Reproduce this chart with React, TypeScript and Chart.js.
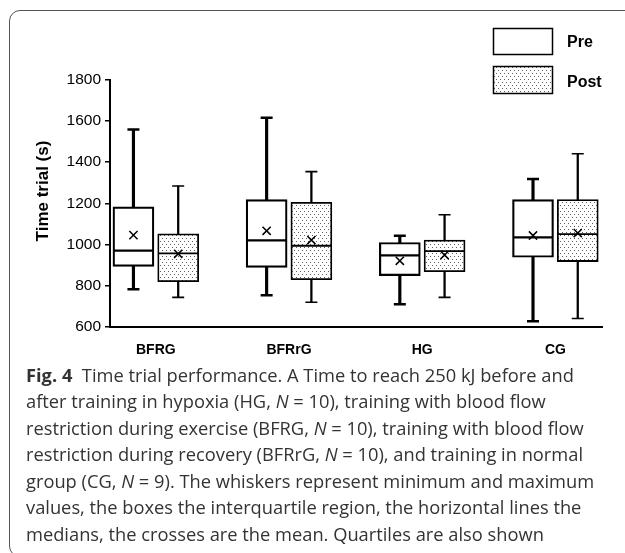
import React, { useEffect, useRef } from "react";
import { Chart, registerables } from "chart.js";

Chart.register(...registerables);

// ---------- data ----------
const categories = ["BFRG", "BFRrG", "HG", "CG"];
const seriesNames = ["Pre", "Post"];
const yTicks = [600, 800, 1000, 1200, 1400, 1600, 1800];
const yTitle = "Time trial (s)";

const preMin = [781, 752, 708, 626];
const preQ1 = [893, 888, 848, 937];
const preMedian = [969, 1019, 946, 1034];
const preQ3 = [1182, 1218, 1009, 1218];
const preMax = [1559, 1616, 1042, 1318];
const preMean = [1045, 1066, 920, 1043];

const postMin = [742, 718, 742, 639];
const postQ1 = [818, 828, 867, 916];
const postMedian = [956, 993, 967, 1050];
const postQ3 = [1051, 1205, 1021, 1218];
const postMax = [1284, 1354, 1144, 1441];
const postMean = [954, 1021, 948, 1055];

// ---------- styling ----------
const FONT = '"Liberation Sans", Arial, Helvetica, sans-serif';
const OFF = 0.168;

function makePattern(): CanvasPattern | string {
  const c = document.createElement("canvas");
  c.width = 4;
  c.height = 6;
  const p = c.getContext("2d");
  if (!p) return "#ddd";
  p.fillStyle = "#ffffff";
  p.fillRect(0, 0, 4, 6);
  p.fillStyle = "#5e5e5e";
  p.fillRect(0, 1, 1, 1);
  p.fillRect(2, 4, 1, 1);
  const pat = p.createPattern(c, "repeat");
  return pat || "#ddd";
}

function seriesDatasets(
  name: string,
  offset: number,
  mins: number[],
  q1: number[],
  med: number[],
  q3: number[],
  maxs: number[],
  means: number[],
  fill: any,
  lw: { whisker: number; box: number; median: number }
) {
  const xs = categories.map((_, i) => i + offset);
  return [
    {
      type: "bar",
      label: name + " whisker",
      data: xs.map((x, i) => ({ x, y: [mins[i], maxs[i]] })),
      backgroundColor: "#000",
      borderWidth: 0,
      barThickness: lw.whisker,
      grouped: false,
      order: 5,
    },
    {
      type: "scatter",
      label: name + " caps",
      data: xs.flatMap((x, i) => [
        { x, y: mins[i] },
        { x, y: maxs[i] },
      ]),
      pointStyle: "line",
      pointRadius: 6,
      pointBorderWidth: lw.whisker,
      pointBorderColor: "#000",
      order: 4,
    },
    {
      type: "bar",
      label: name,
      data: xs.map((x, i) => ({ x, y: [q1[i], q3[i]] })),
      backgroundColor: fill,
      borderColor: "#000",
      borderWidth: lw.box,
      borderSkipped: false,
      barThickness: 41,
      grouped: false,
      order: 3,
    },
    {
      type: "scatter",
      label: name + " median",
      data: xs.map((x, i) => ({ x, y: med[i] })),
      pointStyle: "line",
      pointRadius: 20,
      pointBorderWidth: lw.median,
      pointBorderColor: "#000",
      order: 2,
    },
    {
      type: "scatter",
      label: name + " mean",
      data: xs.map((x, i) => ({ x, y: means[i] })),
      pointStyle: "crossRot",
      pointRadius: 5.8,
      pointBorderWidth: 1.5,
      pointBorderColor: "#000",
      order: 1,
    },
  ];
}

export default function App() {
  const ref = useRef<HTMLCanvasElement | null>(null);

  useEffect(() => {
    if (!ref.current) return;
    const pattern = makePattern();

    const extras = {
      id: "extras",
      afterDraw(chart: any) {
        const ctx = chart.ctx;
        ctx.save();
        // y-axis title
        ctx.translate(43, 191);
        ctx.rotate(-Math.PI / 2);
        ctx.fillStyle = "#000";
        ctx.font = `bold 17px ${FONT}`;
        ctx.textAlign = "center";
        ctx.textBaseline = "middle";
        ctx.fillText(yTitle, 0, 0);
        ctx.restore();

        // legend
        ctx.save();
        ctx.lineWidth = 1.5;
        ctx.strokeStyle = "#000";
        ctx.fillStyle = "#fff";
        ctx.fillRect(493.5, 28.5, 59, 26);
        ctx.strokeRect(493.5, 28.5, 59, 26);
        ctx.fillStyle = pattern;
        ctx.fillRect(493.5, 66.5, 59, 27);
        ctx.strokeRect(493.5, 66.5, 59, 27);
        ctx.fillStyle = "#000";
        ctx.font = `bold 16px ${FONT}`;
        ctx.textAlign = "left";
        ctx.textBaseline = "middle";
        ctx.fillText(seriesNames[0], 567, 43);
        ctx.fillText(seriesNames[1], 567, 83);
        ctx.restore();
      },
    };

    const datasets: any[] = [
      ...seriesDatasets(seriesNames[0], -OFF, preMin, preQ1, preMedian, preQ3, preMax, preMean, "#ffffff", {
        whisker: 2.5,
        box: 2.2,
        median: 2.2,
      }),
      ...seriesDatasets(seriesNames[1], OFF, postMin, postQ1, postMedian, postQ3, postMax, postMean, pattern, {
        whisker: 1.6,
        box: 1.8,
        median: 1.8,
      }),
    ];

    const chart = new Chart(ref.current, {
      type: "bar",
      data: { datasets },
      plugins: [extras],
      options: {
        animation: false,
        responsive: false,
        events: [],
        layout: { padding: { left: 0, right: 17, top: 80, bottom: 0 } },
        plugins: {
          legend: { display: false },
          tooltip: { enabled: false },
        },
        scales: {
          x: {
            type: "linear",
            min: -0.344,
            max: 3.356,
            offset: false,
            afterBuildTicks: (s: any) => {
              s.ticks = categories.map((_, i) => ({ value: i }));
            },
            afterFit: (s: any) => {
              s.height = 38.5;
            },
            grid: { display: false },
            border: { display: true, color: "#000", width: 2 },
            ticks: {
              autoSkip: false,
              maxRotation: 0,
              padding: 7,
              color: "#000",
              font: { family: FONT, size: 14, weight: "bold" },
              callback: (v: any) => categories[v] ?? "",
            },
          },
          y: {
            type: "linear",
            min: 600,
            max: 1800,
            afterBuildTicks: (s: any) => {
              s.ticks = yTicks.map((v) => ({ value: v }));
            },
            afterFit: (s: any) => {
              s.width = 110;
            },
            grid: {
              drawOnChartArea: false,
              drawTicks: true,
              tickLength: 5,
              color: "#000",
              lineWidth: 1.5,
            },
            border: { display: true, color: "#000", width: 2 },
            ticks: {
              padding: 4,
              color: "#000",
              font: { family: FONT, size: 15.5 },
              callback: (v: any) => String(v),
            },
          },
        },
      } as any,
    } as any);

    return () => chart.destroy();
  }, []);

  const capFont = '"Open Sans", "Noto Sans", sans-serif';
  const lineStyle: React.CSSProperties = { whiteSpace: "nowrap" };

  return (
    <div
      style={{
        position: "fixed",
        left: 0,
        top: 0,
        width: 625,
        height: 553,
        overflow: "hidden",
        background: "#fff",
      }}
    >
      <div
        style={{
          position: "absolute",
          left: 9,
          top: 10,
          width: 680,
          height: 547,
          border: "1.5px solid #555",
          borderRadius: 11,
          boxSizing: "border-box",
        }}
      />
      <canvas
        ref={ref}
        width={625}
        height={365}
        style={{ position: "absolute", left: 0, top: 0, width: 625, height: 365 }}
      />
      <div
        style={{
          position: "absolute",
          left: 26,
          top: 361.5,
          fontFamily: capFont,
          fontSize: 18.3,
          lineHeight: "26.5px",
          letterSpacing: "0px",
          color: "#333",
        }}
      >
        <div style={lineStyle}>
          <b>Fig. 4</b>&nbsp; Time trial performance. A Time to reach 250 kJ before and
        </div>
        <div style={lineStyle}>
          after training in hypoxia (HG, <i>N</i> = 10), training with blood flow
        </div>
        <div style={lineStyle}>
          restriction during exercise (BFRG, <i>N</i> = 10), training with blood flow
        </div>
        <div style={lineStyle}>
          restriction during recovery (BFRrG, <i>N</i> = 10), and training in normal
        </div>
        <div style={lineStyle}>
          group (CG, <i>N</i> = 9). The whiskers represent minimum and maximum
        </div>
        <div style={lineStyle}>
          values, the boxes the interquartile region, the horizontal lines the
        </div>
        <div style={lineStyle}>medians, the crosses are the mean. Quartiles are also shown</div>
      </div>
    </div>
  );
}
